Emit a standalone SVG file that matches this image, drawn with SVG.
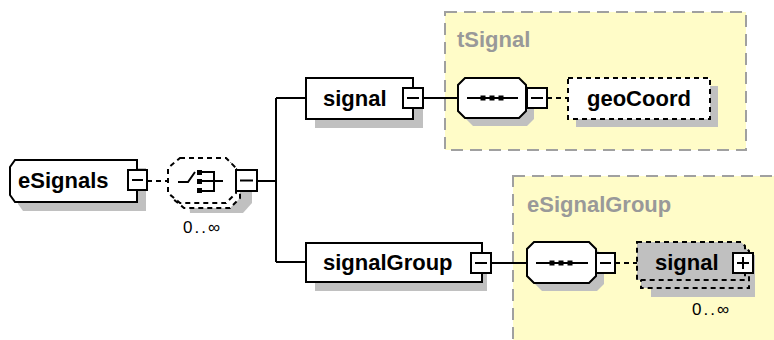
<svg xmlns="http://www.w3.org/2000/svg" width="774" height="340" viewBox="0 0 774 340">
<defs>
<style>
.area{fill:#fffcc8;stroke:#a0a0a0;stroke-width:2;stroke-dasharray:12 7}
.atitle{font-family:"Liberation Sans",Arial,sans-serif;font-weight:bold;font-size:22px;fill:#999999}
.shadow{fill:#c0c0c0;stroke:none}
.box{fill:#ffffff;stroke:#000;stroke-width:2}
.dbox{fill:#ffffff;stroke:#000;stroke-width:2;stroke-dasharray:5 4}
.gbox{fill:#c0c0c0;stroke:#000;stroke-width:2;stroke-dasharray:5 4}
.lbl{font-family:"Liberation Sans",Arial,sans-serif;font-weight:bold;font-size:22px;fill:#000}
.occ{font-family:"Liberation Sans",Arial,sans-serif;font-size:17px;letter-spacing:2px;fill:#000}
.btn{fill:#ffffff;stroke:#000;stroke-width:2}
.sign{stroke:#000;stroke-width:2;fill:none}
.line{stroke:#000;stroke-width:2;fill:none}
.dline{stroke:#000;stroke-width:2;fill:none;stroke-dasharray:5 4}
</style>
</defs>
<rect width="774" height="340" fill="#ffffff"/>

<g id="area-tSignal">
<rect class="area" x="445" y="12" width="301" height="138"/>
<text class="atitle" x="457" y="47">tSignal</text>
</g>
<g id="area-eSignalGroup">
<rect class="area" x="513" y="176" width="290" height="200"/>
<text class="atitle" x="527" y="212">eSignalGroup</text>
</g>

<g id="connectors">
<path class="dline" d="M147,181 H167"/>
<path class="line" d="M257,181 H276 M276,98 V262 M276,98 H306 M276,262 H306"/>
<path class="line" d="M423,98 H458"/>
<path class="dline" d="M547,98 H568"/>
<path class="line" d="M491,263 H527"/>
<path class="dline" d="M615,263 H637"/>
</g>

<g id="eSignals">
<path class="shadow" d="M23,168 H146 V211 H23 L18,204 V176 Z"/>
<path class="box" d="M15,160 H137 V202 H15 L10,195 V167 Z"/>
<text class="lbl" x="18" y="188">eSignals</text>
<rect class="btn" x="128" y="170" width="19" height="20"/>
<path class="sign" d="M132,180 H143"/>
</g>

<g id="choice">
<path class="shadow" d="M188,176 H252 V203 L243,213 H190 Z"/>
<path class="dbox" d="M184,163 H230 L240,173 V198 L230,208 H184 L172,198 V173 Z"/>
<path class="dbox" d="M180,158 H226 L236,168 V193 L226,203 H180 L168,193 V168 Z"/>
<path class="sign" d="M178,182 H188 L195,172"/>
<rect x="197" y="170" width="5" height="5" fill="#000"/>
<rect x="197" y="179" width="5" height="5" fill="#000"/>
<rect x="197" y="188" width="5" height="5" fill="#000"/>
<path class="sign" d="M202,172 H214 V191 H202 M202,181 H223"/>
<rect class="btn" x="236" y="170" width="21" height="21"/>
<path class="sign" d="M240,180.5 H253"/>
<text class="occ" x="183" y="233">0..∞</text>
</g>

<g id="signal">
<rect class="shadow" x="315" y="87" width="108" height="41"/>
<rect class="box" x="306" y="78" width="107" height="41"/>
<text class="lbl" x="323" y="106">signal</text>
<rect class="btn" x="403" y="88" width="20" height="20"/>
<path class="sign" d="M407,98 H419"/>
</g>

<g id="signalGroup">
<rect class="shadow" x="315" y="252" width="172" height="39"/>
<rect class="box" x="306" y="243" width="176" height="39"/>
<text class="lbl" x="323" y="270">signalGroup</text>
<rect class="btn" x="471" y="253" width="20" height="20"/>
<path class="sign" d="M475,263 H487"/>
</g>

<g id="seq1">
<path class="shadow" d="M473,86 H527 L534,93 V119 L527,126 H473 L466,119 Z"/>
<path class="box" d="M465,78 H519 L526,85 V111 L519,118 H465 L458,111 V85 Z"/>
<path class="sign" d="M467,98 H518"/>
<rect x="480.5" y="95.5" width="5" height="5" fill="#000"/>
<rect x="489.5" y="95.5" width="5" height="5" fill="#000"/>
<rect x="498.5" y="95.5" width="5" height="5" fill="#000"/>
<rect class="btn" x="527" y="88" width="20" height="20"/>
<path class="sign" d="M531,98 H543"/>
</g>

<g id="geoCoord">
<rect class="shadow" x="576" y="86" width="142" height="41"/>
<rect class="dbox" x="568" y="78" width="142" height="41"/>
<text class="lbl" x="587" y="106">geoCoord</text>
</g>

<g id="seq2">
<path class="shadow" d="M542,250 H597 L604,257 V284 L597,291 H542 L535,284 Z"/>
<path class="box" d="M534,242 H589 L596,249 V276 L589,283 H534 L527,276 V249 Z"/>
<path class="sign" d="M536,263 H588"/>
<rect x="549.5" y="260.5" width="5" height="5" fill="#000"/>
<rect x="558.5" y="260.5" width="5" height="5" fill="#000"/>
<rect x="567.5" y="260.5" width="5" height="5" fill="#000"/>
<rect class="btn" x="596" y="253" width="19" height="20"/>
<path class="sign" d="M600,263 H611"/>
</g>

<g id="signalRef">
<rect class="shadow" x="651" y="255" width="104" height="42"/>
<path class="gbox" d="M641,247 H745 L749,251 V288 H641 Z"/>
<path class="gbox" d="M637,242 H741 L745,246 V280 H637 Z"/>
<text class="lbl" x="655" y="270">signal</text>
<rect class="btn" x="733" y="253" width="20" height="20"/>
<path class="sign" d="M737,263 H749 M743,257 V269"/>
<text class="occ" x="692" y="315">0..∞</text>
</g>
</svg>
